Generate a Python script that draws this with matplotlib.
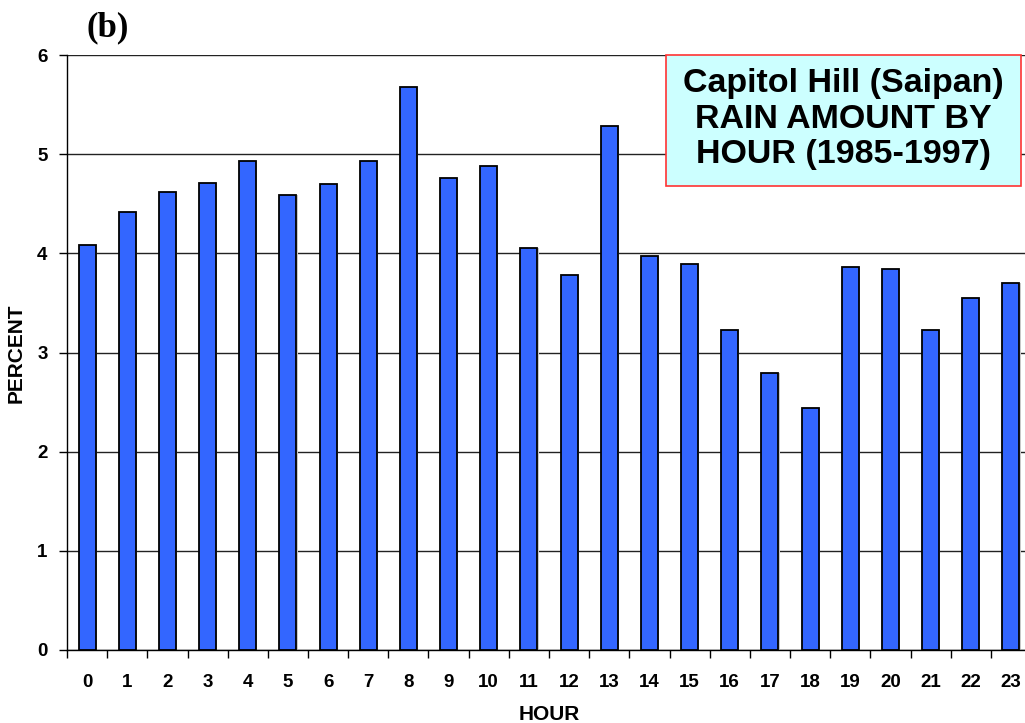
import matplotlib
matplotlib.use("Agg")
import matplotlib.pyplot as plt
import numpy as np

hours = [str(h) for h in range(24)]
percent = [4.08, 4.42, 4.62, 4.71, 4.93, 4.59, 4.70, 4.93, 5.68, 4.76, 4.88, 4.05,
           3.78, 5.28, 3.97, 3.89, 3.23, 2.79, 2.44, 3.86, 3.84, 3.23, 3.55, 3.70]
yticks = [0, 1, 2, 3, 4, 5, 6]
title_text = "Capitol Hill (Saipan)\nRAIN AMOUNT BY\nHOUR (1985-1997)"

W, H = 1025, 723
fig = plt.figure(figsize=(W / 100, H / 100), dpi=100)
ax_left, ax_right, ax_top, ax_bot = 67, 1031, 55, 650
ax = fig.add_axes([ax_left / W, 1 - ax_bot / H, (ax_right - ax_left) / W, (ax_bot - ax_top) / H])

x = np.arange(len(hours))
ax.bar(x + 0.03, percent, width=0.42, color="#c8c8c8", zorder=2)
ax.bar(x, percent, width=0.42, color="#3366FF", edgecolor="black", linewidth=1.3, zorder=3)

ax.set_xlim(-0.5, len(hours) - 0.5)
ax.set_ylim(0, 6)
ax.set_yticks(yticks)
ax.set_yticklabels([str(v) for v in yticks], fontfamily="Liberation Sans",
                   fontweight="bold", fontsize=13.5)
ax.yaxis.grid(True, color="#222222", linewidth=1.0, zorder=1)
ax.set_axisbelow(True)

ax.set_xticks(np.arange(-0.5, len(hours), 1.0))
ax.set_xticklabels([])
ax.set_xticks(x, minor=True)
ax.set_xticklabels(hours, minor=True, fontfamily="Liberation Sans",
                   fontweight="bold", fontsize=13.5)
ax.tick_params(axis="x", which="major", direction="out", length=6, width=1, color="black")
ax.tick_params(axis="x", which="minor", length=0, pad=17)
ax.tick_params(axis="y", direction="out", length=6, width=1, pad=8)

for s in ["top", "right"]:
    ax.spines[s].set_visible(False)
ax.spines["left"].set_linewidth(1.0)
ax.spines["bottom"].set_linewidth(1.0)

ax.set_xlabel("HOUR", fontfamily="Liberation Sans", fontweight="bold", fontsize=15)
ax.xaxis.set_label_coords(0.5, -(705 - 650) / (ax_bot - ax_top))
ax.set_ylabel("PERCENT", fontfamily="Liberation Sans", fontweight="bold", fontsize=15)
ax.yaxis.set_label_coords(-(67 - 26) / (ax_right - ax_left), 1 - (353 - ax_top) / (ax_bot - ax_top))

fig.text(86 / W, 1 - 28 / H, "(b)", fontfamily="Liberation Serif", fontweight="bold",
         fontsize=25, ha="left", va="center")

bx0, bx1, by0, by1 = 666, 1021, 55, 186
box = plt.Rectangle((bx0 / W, 1 - by1 / H), (bx1 - bx0) / W, (by1 - by0) / H,
                    transform=fig.transFigure, facecolor="#CCFFFF", edgecolor="#FF3333",
                    linewidth=1.2, zorder=5)
fig.patches.append(box)
fig.text((bx0 + bx1) / 2 / W, 1 - (by0 + by1) / 2 / H + 0.002, title_text,
         fontfamily="Liberation Sans", fontweight="bold", fontsize=24.5, ha="center",
         va="center", linespacing=1.18, zorder=6)

fig.savefig("out.png", dpi=100)
